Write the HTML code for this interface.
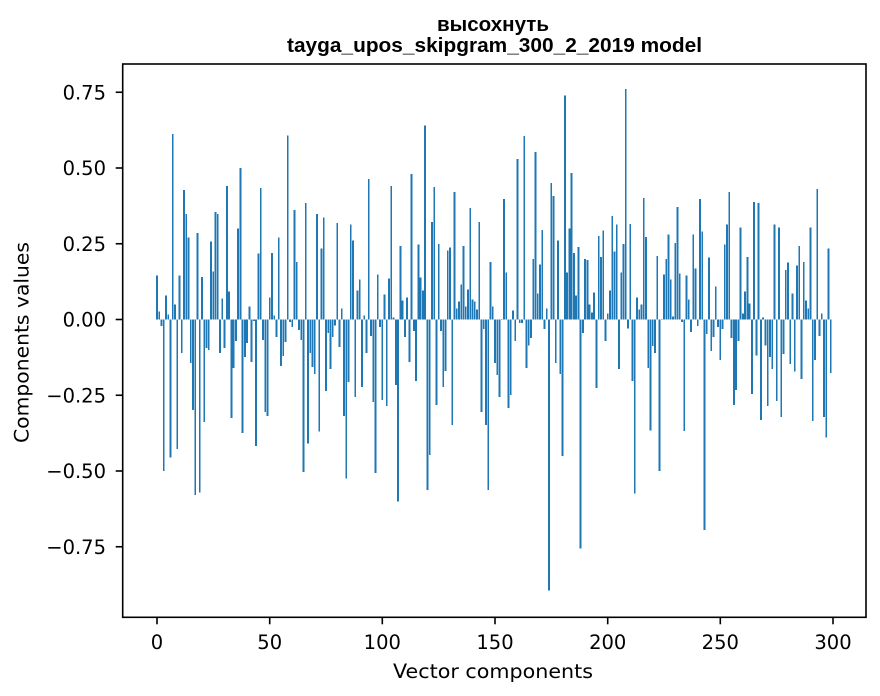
<!DOCTYPE html>
<html>
<head>
<meta charset="utf-8">
<style>
html,body{margin:0;padding:0;background:#fff;}
svg{display:block;}
.tk{font-family:"DejaVu Sans","Liberation Sans",sans-serif;font-size:19.5px;fill:#000;}
.tt{font-family:"Liberation Sans","DejaVu Sans",sans-serif;font-size:20.5px;font-weight:bold;fill:#000;}
</style>
</head>
<body>
<svg width="880" height="696" viewBox="0 0 880 696" xmlns="http://www.w3.org/2000/svg">
<rect x="0" y="0" width="880" height="696" fill="#fff"/>
<g transform="translate(157,319.5) scale(2.25333,-303)">
<path fill="#1f77b4" shape-rendering="crispEdges" d="M-.4,0h.8V.145h-.8zM.6,0h.8V.026h-.8zM1.6,0h.8V-.022h-.8zM2.6,0h.8V-.5h-.8zM3.6,0h.8V.079h-.8zM4.6,0h.8V.016h-.8zM5.6,0h.8V-.456h-.8zM6.6,0h.8V.612h-.8zM7.6,0h.8V.049h-.8zM8.6,0h.8V-.427h-.8zM9.6,0h.8V.145h-.8zM10.6,0h.8V-.111h-.8zM11.6,0h.8V.428h-.8zM12.6,0h.8V.349h-.8zM13.6,0h.8V.27h-.8zM14.6,0h.8V-.144h-.8zM15.6,0h.8V-.298h-.8zM16.6,0h.8V-.58h-.8zM17.6,0h.8V.286h-.8zM18.6,0h.8V-.571h-.8zM19.6,0h.8V.141h-.8zM20.6,0h.8V-.338h-.8zM21.6,0h.8V-.094h-.8zM22.6,0h.8V-.1h-.8zM23.6,0h.8V.257h-.8zM24.6,0h.8V.158h-.8zM25.6,0h.8V.355h-.8zM26.6,0h.8V.349h-.8zM27.6,0h.8V-.111h-.8zM28.6,0h.8V.069h-.8zM29.6,0h.8V-.094h-.8zM30.6,0h.8V.44h-.8zM31.6,0h.8V.092h-.8zM32.6,0h.8V-.325h-.8zM33.6,0h.8V-.16h-.8zM34.6,0h.8V-.071h-.8zM35.6,0h.8V.3h-.8zM36.6,0h.8V.5h-.8zM37.6,0h.8V-.374h-.8zM38.6,0h.8V-.124h-.8zM39.6,0h.8V-.078h-.8zM40.6,0h.8V.043h-.8zM41.6,0h.8V-.14h-.8zM42.6,0h.8V-.005h-.8zM43.6,0h.8V-.417h-.8zM44.6,0h.8V.217h-.8zM45.6,0h.8V.434h-.8zM46.6,0h.8V-.068h-.8zM47.6,0h.8V-.305h-.8zM48.6,0h.8V-.318h-.8zM49.6,0h.8V.072h-.8zM50.6,0h.8V.22h-.8zM51.6,0h.8V.013h-.8zM52.6,0h.8V-.058h-.8zM53.6,0h.8V.27h-.8zM54.6,0h.8V-.154h-.8zM55.6,0h.8V-.12h-.8zM56.6,0h.8V-.075h-.8zM57.6,0h.8V.608h-.8zM58.6,0h.8V-.009h-.8zM59.6,0h.8V-.025h-.8zM60.6,0h.8V.362h-.8zM61.6,0h.8V.19h-.8zM62.6,0h.8V-.035h-.8zM63.6,0h.8V-.068h-.8zM64.6,0h.8V-.503h-.8zM65.6,0h.8V.385h-.8zM66.6,0h.8V-.41h-.8zM67.6,0h.8V-.111h-.8zM68.6,0h.8V-.157h-.8zM69.6,0h.8V-.18h-.8zM70.6,0h.8V.349h-.8zM71.6,0h.8V-.37h-.8zM72.6,0h.8V.234h-.8zM73.6,0h.8V.336h-.8zM74.6,0h.8V-.236h-.8zM75.6,0h.8V-.045h-.8zM76.6,0h.8V-.163h-.8zM77.6,0h.8V-.058h-.8zM78.6,0h.8V-.019h-.8zM79.6,0h.8V.319h-.8zM80.6,0h.8V-.091h-.8zM81.6,0h.8V.036h-.8zM82.6,0h.8V-.318h-.8zM83.6,0h.8V-.524h-.8zM84.6,0h.8V-.206h-.8zM85.6,0h.8V.313h-.8zM86.6,0h.8V.26h-.8zM87.6,0h.8V-.255h-.8zM88.6,0h.8V.095h-.8zM89.6,0h.8V.132h-.8zM90.6,0h.8V-.223h-.8zM91.6,0h.8V.013h-.8zM92.6,0h.8V-.111h-.8zM93.6,0h.8V.464h-.8zM94.6,0h.8V-.055h-.8zM95.6,0h.8V-.272h-.8zM96.6,0h.8V-.507h-.8zM97.6,0h.8V.148h-.8zM98.6,0h.8V-.025h-.8zM99.6,0h.8V-.265h-.8zM100.6,0h.8V.082h-.8zM101.6,0h.8V-.285h-.8zM102.6,0h.8V.135h-.8zM103.6,0h.8V.44h-.8zM104.6,0h.8V.007h-.8zM105.6,0h.8V-.216h-.8zM106.6,0h.8V-.6h-.8zM107.6,0h.8V.243h-.8zM108.6,0h.8V.062h-.8zM109.6,0h.8V-.058h-.8zM110.6,0h.8V.072h-.8zM111.6,0h.8V-.14h-.8zM112.6,0h.8V.48h-.8zM113.6,0h.8V-.038h-.8zM114.6,0h.8V-.203h-.8zM115.6,0h.8V.247h-.8zM116.6,0h.8V.138h-.8zM117.6,0h.8V.095h-.8zM118.6,0h.8V.641h-.8zM119.6,0h.8V-.563h-.8zM120.6,0h.8V-.447h-.8zM121.6,0h.8V.322h-.8zM122.6,0h.8V.437h-.8zM123.6,0h.8V-.282h-.8zM124.6,0h.8V.25h-.8zM125.6,0h.8V-.038h-.8zM126.6,0h.8V-.223h-.8zM127.6,0h.8V-.17h-.8zM128.6,0h.8V.227h-.8zM129.6,0h.8V.237h-.8zM130.6,0h.8V-.349h-.8zM131.6,0h.8V.421h-.8zM132.6,0h.8V.036h-.8zM133.6,0h.8V.059h-.8zM134.6,0h.8V.115h-.8zM135.6,0h.8V.243h-.8zM136.6,0h.8V.043h-.8zM137.6,0h.8V.099h-.8zM138.6,0h.8V.368h-.8zM139.6,0h.8V.066h-.8zM140.6,0h.8V.059h-.8zM141.6,0h.8V.033h-.8zM142.6,0h.8V.322h-.8zM143.6,0h.8V-.305h-.8zM144.6,0h.8V-.032h-.8zM145.6,0h.8V-.348h-.8zM146.6,0h.8V-.563h-.8zM147.6,0h.8V.19h-.8zM148.6,0h.8V.043h-.8zM149.6,0h.8V-.144h-.8zM150.6,0h.8V-.183h-.8zM151.6,0h.8V-.255h-.8zM152.6,0h.8V-.002h-.8zM153.6,0h.8V.398h-.8zM154.6,0h.8V.155h-.8zM155.6,0h.8V-.292h-.8zM156.6,0h.8V-.249h-.8zM157.6,0h.8V.03h-.8zM158.6,0h.8V-.071h-.8zM159.6,0h.8V.53h-.8zM160.6,0h.8V-.012h-.8zM161.6,0h.8V-.012h-.8zM162.6,0h.8V.605h-.8zM163.6,0h.8V-.16h-.8zM164.6,0h.8V-.085h-.8zM165.6,0h.8V-.061h-.8zM166.6,0h.8V.2h-.8zM167.6,0h.8V.553h-.8zM168.6,0h.8V.086h-.8zM169.6,0h.8V.181h-.8zM170.6,0h.8V.296h-.8zM171.6,0h.8V-.032h-.8zM172.6,0h.8V.036h-.8zM173.6,0h.8V-.895h-.8zM174.6,0h.8V.45h-.8zM175.6,0h.8V.408h-.8zM176.6,0h.8V-.144h-.8zM177.6,0h.8V.26h-.8zM178.6,0h.8V-.18h-.8zM179.6,0h.8V-.45h-.8zM180.6,0h.8V.74h-.8zM181.6,0h.8V.155h-.8zM182.6,0h.8V.3h-.8zM183.6,0h.8V.484h-.8zM184.6,0h.8V.22h-.8zM185.6,0h.8V.079h-.8zM186.6,0h.8V.24h-.8zM187.6,0h.8V-.755h-.8zM188.6,0h.8V-.045h-.8zM189.6,0h.8V.2h-.8zM190.6,0h.8V.197h-.8zM191.6,0h.8V.049h-.8zM192.6,0h.8V.023h-.8zM193.6,0h.8V.089h-.8zM194.6,0h.8V-.226h-.8zM195.6,0h.8V.276h-.8zM196.6,0h.8V.207h-.8zM197.6,0h.8V.293h-.8zM198.6,0h.8V-.071h-.8zM199.6,0h.8V.02h-.8zM200.6,0h.8V.095h-.8zM201.6,0h.8V.342h-.8zM202.6,0h.8V.224h-.8zM203.6,0h.8V.313h-.8zM204.6,0h.8V-.163h-.8zM205.6,0h.8V.155h-.8zM206.6,0h.8V.25h-.8zM207.6,0h.8V.76h-.8zM208.6,0h.8V-.029h-.8zM209.6,0h.8V.316h-.8zM210.6,0h.8V-.203h-.8zM211.6,0h.8V-.575h-.8zM212.6,0h.8V.072h-.8zM213.6,0h.8V.033h-.8zM214.6,0h.8V.049h-.8zM215.6,0h.8V.401h-.8zM216.6,0h.8V.273h-.8zM217.6,0h.8V-.16h-.8zM218.6,0h.8V-.367h-.8zM219.6,0h.8V-.088h-.8zM220.6,0h.8V-.111h-.8zM221.6,0h.8V.21h-.8zM222.6,0h.8V-.5h-.8zM223.6,0h.8V.002h-.8zM224.6,0h.8V.148h-.8zM225.6,0h.8V.2h-.8zM226.6,0h.8V.28h-.8zM227.6,0h.8V.132h-.8zM228.6,0h.8V.01h-.8zM229.6,0h.8V.253h-.8zM230.6,0h.8V.372h-.8zM231.6,0h.8V.151h-.8zM232.6,0h.8V-.009h-.8zM233.6,0h.8V-.368h-.8zM234.6,0h.8V.145h-.8zM235.6,0h.8V.066h-.8zM236.6,0h.8V-.042h-.8zM237.6,0h.8V.28h-.8zM238.6,0h.8V.168h-.8zM239.6,0h.8V-.022h-.8zM240.6,0h.8V.398h-.8zM241.6,0h.8V.29h-.8zM242.6,0h.8V-.695h-.8zM243.6,0h.8V-.048h-.8zM244.6,0h.8V.204h-.8zM245.6,0h.8V-.104h-.8zM246.6,0h.8V-.058h-.8zM247.6,0h.8V.109h-.8zM248.6,0h.8V-.025h-.8zM249.6,0h.8V-.134h-.8zM250.6,0h.8V-.032h-.8zM251.6,0h.8V.247h-.8zM252.6,0h.8V.313h-.8zM253.6,0h.8V.421h-.8zM254.6,0h.8V-.061h-.8zM255.6,0h.8V-.282h-.8zM256.6,0h.8V-.233h-.8zM257.6,0h.8V-.071h-.8zM258.6,0h.8V.303h-.8zM259.6,0h.8V.02h-.8zM260.6,0h.8V.092h-.8zM261.6,0h.8V.207h-.8zM262.6,0h.8V.053h-.8zM263.6,0h.8V-.246h-.8zM264.6,0h.8V.388h-.8zM265.6,0h.8V-.118h-.8zM266.6,0h.8V.385h-.8zM267.6,0h.8V-.332h-.8zM268.6,0h.8V.007h-.8zM269.6,0h.8V-.085h-.8zM270.6,0h.8V-.286h-.8zM271.6,0h.8V-.124h-.8zM272.6,0h.8V-.163h-.8zM273.6,0h.8V.313h-.8zM274.6,0h.8V-.269h-.8zM275.6,0h.8V.303h-.8zM276.6,0h.8V-.321h-.8zM277.6,0h.8V-.114h-.8zM278.6,0h.8V.164h-.8zM279.6,0h.8V.188h-.8zM280.6,0h.8V-.147h-.8zM281.6,0h.8V.086h-.8zM282.6,0h.8V-.171h-.8zM283.6,0h.8V.178h-.8zM284.6,0h.8V.243h-.8zM285.6,0h.8V-.197h-.8zM286.6,0h.8V.19h-.8zM287.6,0h.8V.062h-.8zM288.6,0h.8V.036h-.8zM289.6,0h.8V.303h-.8zM290.6,0h.8V-.335h-.8zM291.6,0h.8V-.134h-.8zM292.6,0h.8V.431h-.8zM293.6,0h.8V-.055h-.8zM294.6,0h.8V.02h-.8zM295.6,0h.8V-.321h-.8zM296.6,0h.8V-.39h-.8zM297.6,0h.8V.234h-.8zM298.6,0h.8V-.177h-.8z"/>
</g>
<rect x="122.7" y="64" width="743.3" height="553.3" fill="none" stroke="#000" stroke-width="1.6"/>
<g stroke="#000" stroke-width="1.6">
<line x1="157" y1="617.3" x2="157" y2="624.3"/>
<line x1="269.7" y1="617.3" x2="269.7" y2="624.3"/>
<line x1="382.3" y1="617.3" x2="382.3" y2="624.3"/>
<line x1="495" y1="617.3" x2="495" y2="624.3"/>
<line x1="607.7" y1="617.3" x2="607.7" y2="624.3"/>
<line x1="720.3" y1="617.3" x2="720.3" y2="624.3"/>
<line x1="833" y1="617.3" x2="833" y2="624.3"/>
<line x1="115.7" y1="92.25" x2="122.7" y2="92.25"/>
<line x1="115.7" y1="168" x2="122.7" y2="168"/>
<line x1="115.7" y1="243.75" x2="122.7" y2="243.75"/>
<line x1="115.7" y1="319.5" x2="122.7" y2="319.5"/>
<line x1="115.7" y1="395.25" x2="122.7" y2="395.25"/>
<line x1="115.7" y1="471" x2="122.7" y2="471"/>
<line x1="115.7" y1="546.75" x2="122.7" y2="546.75"/>
</g>
<g class="tk" text-anchor="middle">
<text x="157" y="649">0</text>
<text x="269.7" y="649">50</text>
<text x="382.3" y="649">100</text>
<text x="495" y="649">150</text>
<text x="607.7" y="649">200</text>
<text x="720.3" y="649">250</text>
<text x="833" y="649">300</text>
</g>
<g class="tk" text-anchor="end">
<text x="106" y="99.5">0.75</text>
<text x="106" y="175.2">0.50</text>
<text x="106" y="251">0.25</text>
<text x="106" y="326.7">0.00</text>
<text x="106" y="402.5">−0.25</text>
<text x="106" y="478.2">−0.50</text>
<text x="106" y="554">−0.75</text>
</g>
<text class="tk" x="493" y="678" text-anchor="middle" textLength="200" lengthAdjust="spacingAndGlyphs">Vector components</text>
<text class="tk" transform="translate(28.5,342.5) rotate(-90)" x="0" y="0" text-anchor="middle" textLength="201" lengthAdjust="spacingAndGlyphs">Components values</text>
<text class="tt" x="493" y="31" text-anchor="middle" textLength="112" lengthAdjust="spacingAndGlyphs">высохнуть</text>
<text class="tt" x="494.5" y="52" text-anchor="middle" textLength="415" lengthAdjust="spacingAndGlyphs">tayga_upos_skipgram_300_2_2019 model</text>
</svg>
</body>
</html>
